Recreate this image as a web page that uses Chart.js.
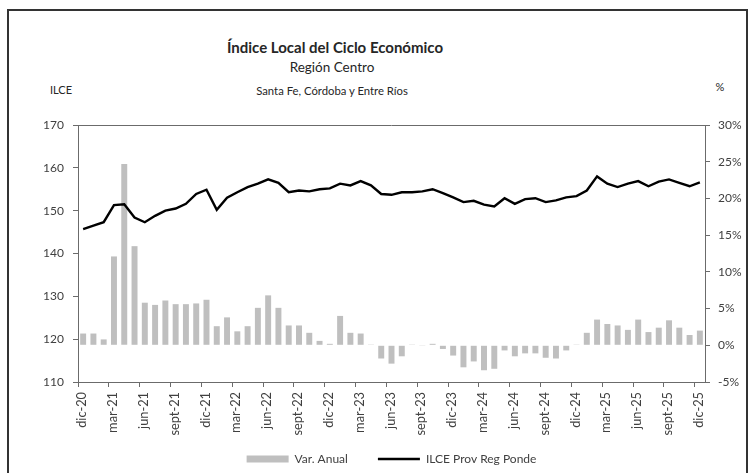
<!DOCTYPE html>
<html lang="es">
<head>
<meta charset="UTF-8">
<title>Índice Local del Ciclo Económico - Región Centro</title>
<script src="https://cdn.jsdelivr.net/npm/chart.js"></script>
<style>
  body { margin: 0; background: #fff; }
  #wrap { position: relative; width: 752px; height: 473px; overflow: hidden; font-family: Lato, "Open Sans", sans-serif; color: #262626; }
  #frame { position: absolute; left: 7px; top: 9px; width: 741px; height: 480px; border: 2px solid #333; box-sizing: border-box; }
  .txt { position: absolute; white-space: nowrap; transform: translateX(-50%); }
  #t1 { left: 335px; top: 38px; font-size: 15px; font-weight: bold; }
  #t2 { left: 332px; top: 59px; font-size: 13.5px; }
  #t3 { left: 332px; top: 84px; font-size: 11.3px; }
  #uL { left: 61px; top: 83px; font-size: 11px; }
  #uR { left: 720px; top: 80px; font-size: 11px; }
  canvas { position: absolute; left: 0; top: 0; }
</style>
</head>
<body>
<div id="wrap">
  <div id="frame"></div>
  <div class="txt" id="t1">Índice Local del Ciclo Económico</div>
  <div class="txt" id="t2">Región Centro</div>
  <div class="txt" id="t3">Santa Fe, Córdoba y Entre Ríos</div>
  <div class="txt" id="uL">ILCE</div>
  <div class="txt" id="uR">%</div>
  <canvas id="chart" width="752" height="473"></canvas>
</div>
<script>
// months dic-20 .. dic-25
const months = [
  'dic-20',
  'ene-21','feb-21','mar-21','abr-21','may-21','jun-21','jul-21','ago-21','sept-21','oct-21','nov-21','dic-21',
  'ene-22','feb-22','mar-22','abr-22','may-22','jun-22','jul-22','ago-22','sept-22','oct-22','nov-22','dic-22',
  'ene-23','feb-23','mar-23','abr-23','may-23','jun-23','jul-23','ago-23','sept-23','oct-23','nov-23','dic-23',
  'ene-24','feb-24','mar-24','abr-24','may-24','jun-24','jul-24','ago-24','sept-24','oct-24','nov-24','dic-24',
  'ene-25','feb-25','mar-25','abr-25','may-25','jun-25','jul-25','ago-25','sept-25','oct-25','nov-25','dic-25'
];

// ILCE Prov Reg Ponde (left axis)
const ilce = [
  145.7,
  146.5, 147.3, 151.3, 151.5, 148.4, 147.3, 148.8, 150.0, 150.5, 151.6, 153.9, 154.9,
  150.2, 153.0, 154.3, 155.5, 156.3, 157.3, 156.5, 154.3, 154.7, 154.5, 155.0, 155.2,
  156.3, 155.9, 156.9, 155.9, 153.9, 153.7, 154.3, 154.3, 154.5, 155.0, 154.1, 153.1,
  152.0, 152.3, 151.4, 151.0, 152.9, 151.6, 152.7, 152.9, 152.0, 152.4, 153.1, 153.4,
  154.7, 158.0, 156.3, 155.5, 156.3, 156.9, 155.7, 156.8, 157.3, 156.5, 155.7, 156.6
];

// Var. Anual in % (right axis)
const varAnual = [
  1.6,
  1.6, 0.8, 12.1, 24.7, 13.5, 5.8, 5.5, 6.1, 5.6, 5.6, 5.7, 6.2,
  2.6, 3.8, 1.9, 2.6, 5.1, 6.8, 5.1, 2.7, 2.7, 1.7, 0.6, 0.2,
  4.0, 1.7, 1.6, 0.1, -1.8, -2.5, -1.5, 0.1, -0.1, 0.2, -0.5, -1.4,
  -3.0, -2.2, -3.4, -3.2, -0.7, -1.5, -1.1, -1.1, -1.7, -1.8, -0.7, 0.1,
  1.7, 3.5, 2.9, 2.7, 2.1, 3.5, 1.8, 2.4, 3.4, 2.4, 1.4, 2.0
];

const axisColor = '#6b6b6b';
const textColor = '#404040';
const fontFamily = 'Lato, "Open Sans", sans-serif';
const tickFont = { family: fontFamily, size: 12 };

// top edge of the plot frame, and pull the legend row up a bit
const frameTop = {
  id: 'frameTop',
  afterLayout(chart) {
    const lg = chart.legend;
    if (lg) { lg.top -= 15; lg.bottom -= 15; }
  },
  afterDraw(chart) {
    const a = chart.chartArea, ctx = chart.ctx;
    ctx.save();
    ctx.strokeStyle = axisColor;
    ctx.lineWidth = 1;
    ctx.beginPath();
    ctx.moveTo(a.left, a.top + 0.5);
    ctx.lineTo(a.right, a.top + 0.5);
    ctx.stroke();
    ctx.restore();
  }
};

new Chart(document.getElementById('chart'), {
  data: {
    labels: months,
    datasets: [
      {
        type: 'bar',
        label: 'Var. Anual',
        data: varAnual,
        yAxisID: 'y1',
        backgroundColor: '#bfbfbf',
        borderWidth: 0,
        barPercentage: 0.58,
        categoryPercentage: 1,
        order: 1
      },
      {
        type: 'line',
        label: 'ILCE Prov Reg Ponde',
        data: ilce,
        yAxisID: 'y',
        borderColor: '#000',
        backgroundColor: '#000',
        borderWidth: 2.4,
        pointRadius: 0,
        pointStyle: 'line',
        tension: 0,
        order: 0
      }
    ]
  },
  options: {
    responsive: false,
    animation: false,
    layout: { padding: { top: 125, left: 0, right: 0, bottom: -17 } },
    scales: {
      x: {
        offset: true,
        grid: {
          offset: true,
          drawOnChartArea: false,
          tickLength: 5,
          color: ctx => ctx.index % 3 === 0 ? axisColor : 'rgba(0,0,0,0)'
        },
        border: { color: axisColor },
        ticks: {
          autoSkip: false,
          minRotation: 90,
          maxRotation: 90,
          padding: 5,
          labelOffset: -1,
          color: textColor,
          font: { family: fontFamily, size: 12.8 },
          callback: (v, i) => i % 3 === 0 ? months[i] : ''
        },
        afterFit: s => { s.height = 56; }
      },
      y: {
        position: 'left',
        min: 110,
        max: 170,
        ticks: { stepSize: 10, padding: 9, color: textColor, font: tickFont },
        grid: { drawOnChartArea: false, tickLength: 5, color: axisColor },
        border: { color: axisColor },
        afterFit: s => { s.width = 78; }
      },
      y1: {
        position: 'right',
        min: -5,
        max: 30,
        ticks: { stepSize: 5, padding: 8, color: textColor, font: tickFont, callback: v => v + '%' },
        grid: { drawOnChartArea: false, tickLength: 5, color: axisColor },
        border: { color: axisColor },
        afterFit: s => { s.width = 47; }
      }
    },
    plugins: {
      tooltip: { enabled: false },
      legend: {
        position: 'bottom',
        fullSize: false,
        labels: {
          usePointStyle: true,
          pointStyleWidth: 42,
          boxHeight: 7,
          padding: 30,
          color: textColor,
          font: { family: fontFamily, size: 12 },
          sort: (a, b) => a.datasetIndex - b.datasetIndex,
          generateLabels(chart) {
            const items = Chart.defaults.plugins.legend.labels.generateLabels(chart);
            items.forEach(it => { it.pointStyle = it.datasetIndex === 0 ? 'rect' : 'line'; });
            return items;
          }
        }
      }
    }
  },
  plugins: [frameTop]
});
</script>
</body>
</html>
